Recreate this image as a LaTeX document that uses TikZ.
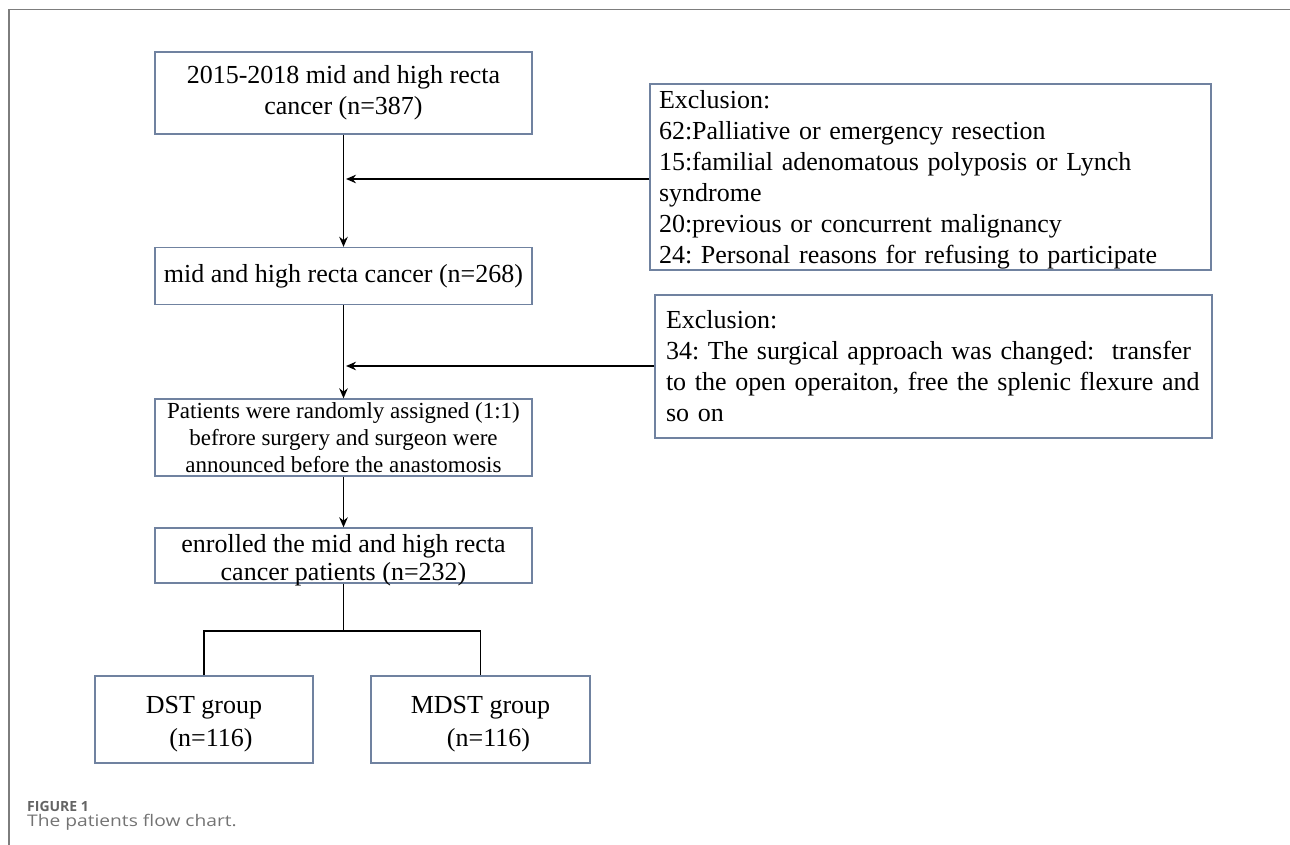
\documentclass[tikz,border=0pt]{standalone}
\usepackage{fontspec}
\setmainfont{Liberation Serif}
\newfontfamily\capfont{Open Sans}
\newfontfamily\capwide[FakeStretch=1.2]{Open Sans}
\usetikzlibrary{arrows.meta}
\definecolor{boxc}{RGB}{112,130,160}
\definecolor{framec}{RGB}{125,125,125}
\definecolor{capc}{RGB}{100,100,100}
\definecolor{capd}{RGB}{115,115,115}
\newcommand{\lowln}[2]{\raisebox{-#1}[0pt][0pt]{#2}}
\begin{document}
\frenchspacing
\begin{tikzpicture}[x=1pt,y=-1pt,
  box/.style={draw=boxc, line width=1.3pt, inner sep=0pt, align=center, font=\fontsize{26}{31}\selectfont\frenchspacing},
  exbox/.style={draw=boxc, line width=1.3pt, inner xsep=9pt, inner ysep=0pt, align=left, font=\fontsize{26}{31}\selectfont\frenchspacing},
  arr/.style={line width=1.9pt, -{Stealth[length=10pt,width=8.5pt]}},
  lnk/.style={line width=1.4pt},
  captxt/.style={anchor=base west, inner sep=0pt}]
\useasboundingbox (0,0) rectangle (1290,845);
\draw[framec, line width=1.5pt] (9,845) -- (9,9.5) -- (1290,9.5);

\node[box, minimum width=377pt, minimum height=82pt] (b1) at (343.5,93) {2015-2018 mid and high recta\\cancer (n=387)};
\node[box, minimum width=377pt, minimum height=57pt] (b2) at (343.5,276) {mid and high recta cancer (n=268)};
\node[box, minimum width=377pt, minimum height=77pt, font=\fontsize{23}{27}\selectfont\frenchspacing] (b3) at (343.5,437.5) {Patients were randomly assigned (1:1)\\befrore surgery and surgeon were\\announced before the anastomosis};
\node[box, minimum width=377pt, minimum height=55pt, font=\fontsize{26}{28}\selectfont\frenchspacing] (b4) at (343.5,555.5) {\lowln{11pt}{enrolled the mid and high recta}\\\lowln{11pt}{cancer patients (n=232)}};
\node[box, minimum width=218pt, minimum height=87pt, font=\fontsize{26}{33}\selectfont] (b5) at (204,719.5) {\rule{0pt}{26pt}DST group\\\hspace*{14pt}(n=116)};
\node[box, minimum width=219pt, minimum height=87pt, font=\fontsize{26}{33}\selectfont] (b6) at (480.5,719.5) {\rule{0pt}{26pt}MDST group\\\hspace*{16pt}(n=116)};

\node[exbox, minimum width=561pt, minimum height=186pt, text width=543pt] (e1) at (930.5,177) {\rule{0pt}{24pt}Exclusion:\\62:Palliative or emergency resection\\15:familial adenomatous polyposis or Lynch\\syndrome\\20:previous or concurrent malignancy\\24: Personal reasons for refusing to participate};
\node[exbox, minimum width=557pt, minimum height=143pt, text width=535pt, inner xsep=11pt] (e2) at (933.5,366.5) {Exclusion:\\34: The surgical approach was changed:\ \ transfer\\to the open operaiton, free the splenic flexure and\\so on};

\draw[arr] (b1) -- (b2);
\draw[arr] (b2) -- (b3);
\draw[arr] (b3) -- (b4);
\coordinate (a1) at (346,179);
\coordinate (a2) at (346,366);
\draw[arr] (e1.west |- a1) -- (a1);
\draw[arr] (e2.west |- a2) -- (a2);

\coordinate (j) at (343.5,631);
\draw[lnk] (b4.south) -- (j);
\draw[lnk] (b5.north) -- (b5.north |- j) -- (b6.north |- j) -- (b6.north);

\node[captxt, text=capc, font=\capfont\bfseries\fontsize{14}{17}\selectfont] (cap1) at (27,811) {FIGURE 1};
\node[captxt, text=capd, font=\capwide\fontsize{16}{19}\selectfont] (cap2) at (27,826) {The patients flow chart.};
\end{tikzpicture}
\end{document}
